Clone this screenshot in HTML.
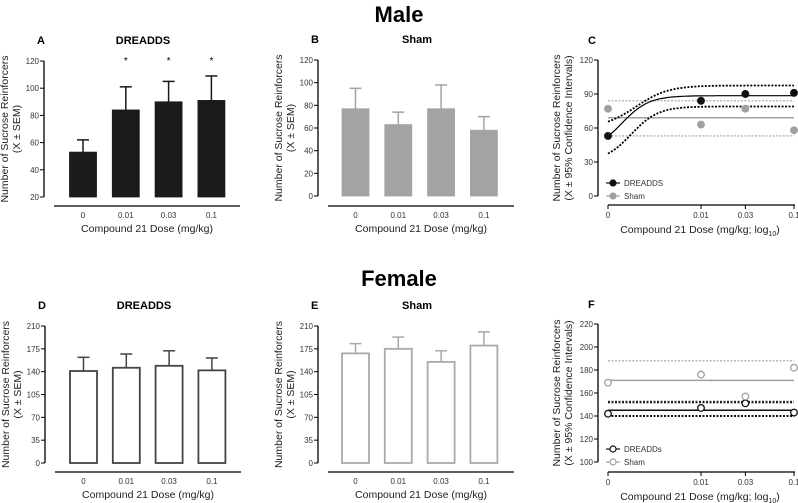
<!DOCTYPE html>
<html><head><meta charset="utf-8"><style>
body{margin:0;background:#fff;}
svg{display:block;font-family:"Liberation Sans",Arial,sans-serif;}
</style></head><body>
<svg id="fig" width="798" height="503" viewBox="0 0 798 503">
<text x="399" y="22" text-anchor="middle" font-size="22" font-weight="bold">Male</text>
<text x="399" y="286" text-anchor="middle" font-size="22" font-weight="bold">Female</text>
</svg>
<script>
const doseLabels = ["0","0.01","0.03","0.1"];
const doseValues = [0.001,0.01,0.03,0.1];
const aMeans = [53,84,90,91];
const aErr = [62,101,105,109];
const aSig = [false,true,true,true];
const bMeans = [77,63,77,58];
const bErr = [95,74,98,70];
const dMeans = [141,146,149,142];
const dErr = [162,167,172,161];
const eMeans = [168,175,155,180];
const eErr = [183,193,172,201];
const ticksAB = [20,40,60,80,100,120];
const ticksB = [0,20,40,60,80,100,120];
const ticksDE = [0,35,70,105,140,175,210];
const cDreadds = [53,84,90,91];
const cSham = [77,63,77,58];
const cShamFit = [69,84,53];
const cTicks = [0,30,60,90,120];
const cFitParams = [40,88.5,-2.85,3];
const cUpperParams = [60,97.5,-2.7,2.5];
const cLowerParams = [30,79,-2.75,3];
const fDreadds = [142,147,151,143];
const fSham = [169,176,157,182];
const fDreaddsFit = [145,152,140];
const fShamFit = [171,188,153];
const fTicks = [100,120,140,160,180,200,220];

const NS="http://www.w3.org/2000/svg";
const svg=document.getElementById('fig');
function mk(tag,attrs,parent,text){const e=document.createElementNS(NS,tag);for(const k in attrs)e.setAttribute(k,attrs[k]);if(text!==undefined)e.textContent=text;(parent||svg).appendChild(e);return e;}

function yAxis(g,ax,yScale,ticks,name){
  const l=mk('line',{x1:ax,x2:ax,y1:yScale(ticks[ticks.length-1]),y2:yScale(ticks[0]),stroke:'#000','stroke-width':1.3},g);
  
  
  ticks.forEach(t=>{
    mk('line',{x1:ax-4,x2:ax,y1:yScale(t),y2:yScale(t),stroke:'#000','stroke-width':1},g);
    const tx=mk('text',{x:ax-5,y:yScale(t)+3,'text-anchor':'end','font-size':8,fill:'#333'},g,String(t));
    
    
  });
}
function yTitle(g,x,cy,l1,l2,name){
  const t=mk('text',{transform:`translate(${x},${cy}) rotate(-90)`,'text-anchor':'middle','font-size':10.5,fill:'#222'},g);
  
  
  mk('tspan',{x:0,dy:0},t,l1);
  const s=mk('tspan',{x:0,dy:12},t,l2);
}
function headers(g,lx,ly,letter,tx,title,name){
  const a=mk('text',{x:lx,y:ly,'font-size':11,'font-weight':'bold'},g,letter);
  
  
  if(title){const b=mk('text',{x:tx,y:ly,'font-size':11,'font-weight':'bold','text-anchor':'middle'},g,title);
  
  }
}

function barPanel(opt){
  const g=mk('g',{});
  
  
  const t0=opt.ticks[0],t1=opt.ticks[opt.ticks.length-1];
  const yS=v=>opt.yb+(v-t0)/(t1-t0)*(opt.yt-opt.yb);
  const xC=i=>opt.x0+14.5+i*42.8;
  yAxis(g,opt.ax,yS,opt.ticks,opt.name);
  yTitle(g,opt.ax-36,(opt.yt+opt.yb)/2,'Number of Sucrose Reinforcers','(X ± SEM)',opt.name);
  headers(g,opt.ax-7,opt.yt-17,opt.letter,opt.ax+99,opt.title,opt.name);
  opt.means.forEach((m,i)=>{
    const cx=xC(i);
    const e=mk('line',{x1:cx,x2:cx,y1:yS(opt.err[i]),y2:yS(m),stroke:opt.stroke,'stroke-width':1.5},g);
    
    
    mk('line',{x1:cx-6,x2:cx+6,y1:yS(opt.err[i]),y2:yS(opt.err[i]),stroke:opt.stroke,'stroke-width':1.5},g);
    const r=mk('rect',{x:cx-13.5,y:yS(m),width:27,height:yS(t0)-yS(m),fill:opt.fill,stroke:opt.stroke,'stroke-width':opt.fill==='#fff'?1.8:0.8},g);
    
    
    if(opt.sig&&opt.sig[i]){const s=mk('text',{x:cx,y:opt.yt+3,'text-anchor':'middle','font-size':10},g,'*');
      
      }
    const tl=mk('text',{x:cx,y:opt.xa+12,'text-anchor':'middle','font-size':8,fill:'#333'},g,doseLabels[i]);
    
    
  });
  const xl=mk('line',{x1:opt.ax+10,x2:opt.ax+196,y1:opt.xa,y2:opt.xa,stroke:'#000','stroke-width':1.3},g);
  
  
  const xt=mk('text',{x:opt.ax+103,y:opt.xa+26,'text-anchor':'middle','font-size':10.5,fill:'#222'},g,'Compound 21 Dose (mg/kg)');
  
  
}
barPanel({name:'panel-a',letter:'A',title:'DREADDS',ax:44,x0:68.5,yt:61,yb:197,xa:206,ticks:ticksAB,means:aMeans,err:aErr,sig:aSig,fill:'#1a1a1a',stroke:'#1a1a1a'});
barPanel({name:'panel-b',letter:'B',title:'Sham',ax:318,x0:341,yt:60,yb:196,xa:206,ticks:ticksB,means:bMeans,err:bErr,fill:'#a3a3a3',stroke:'#a3a3a3'});
barPanel({name:'panel-d',letter:'D',title:'DREADDS',ax:45,x0:69,yt:326,yb:463,xa:472,ticks:ticksDE,means:dMeans,err:dErr,fill:'#fff',stroke:'#444'});
barPanel({name:'panel-e',letter:'E',title:'Sham',ax:318,x0:341,yt:326,yb:463,xa:472,ticks:ticksDE,means:eMeans,err:eErr,fill:'#fff',stroke:'#aaa'});

function fitPanel(opt){
  const g=mk('g',{});
  
  
  const t0=opt.ticks[0],t1=opt.ticks[opt.ticks.length-1];
  const yS=v=>opt.yb+(v-t0)/(t1-t0)*(opt.yt-opt.yb);
  const xS=d=>608+(Math.log10(d)+3)*93;
  const xEnd=xS(0.1);
  yAxis(g,598,yS,opt.ticks,opt.name);
  yTitle(g,560,(opt.yt+opt.yb)/2,'Number of Sucrose Reinforcers','(X ± 95% Confidence Intervals)',opt.name);
  headers(g,588,opt.yt-16,opt.letter,0,null,opt.name);
  const xl=mk('line',{x1:608,x2:795,y1:opt.xa,y2:opt.xa,stroke:'#000','stroke-width':1.3},g);
  
  
  doseValues.forEach((d,i)=>{
    mk('line',{x1:xS(d),x2:xS(d),y1:opt.xa,y2:opt.xa+4,stroke:'#000'},g);
    const tl=mk('text',{x:xS(d),y:opt.xa+13,'text-anchor':'middle','font-size':8,fill:'#333'},g,doseLabels[i]);
    
    
  });
  const xt=mk('text',{x:700,y:opt.xa+28,'text-anchor':'middle','font-size':10.5,fill:'#222'},g);
  
  
  xt.textContent='Compound 21 Dose (mg/kg; log';
  mk('tspan',{'font-size':7,dy:3},xt,'10');
  mk('tspan',{dy:-3},xt,')');
  opt.hlines.forEach(h=>{
    const l=mk('line',{x1:608,x2:xEnd,y1:yS(h.v),y2:yS(h.v),stroke:h.c,'stroke-width':h.w,'stroke-dasharray':h.dash||''},g);
    
    
  });
  opt.curves.forEach(c=>{
    const p=c.p;let d='';
    for(let k=0;k<=60;k++){const lx=-3+2*k/60;const v=p[0]+(p[1]-p[0])/(1+Math.pow(10,(p[2]-lx)*p[3]));d+=(k?'L':'M')+(608+(lx+3)*93).toFixed(1)+','+yS(v).toFixed(1);}
    const e=mk('path',{d:d,fill:'none',stroke:'#000','stroke-width':c.w,'stroke-dasharray':c.dash||''},g);
    
    
  });
  opt.series.forEach(s=>{
    s.vals.forEach((v,i)=>{
      const c=mk('circle',{cx:xS(doseValues[i]),cy:yS(v),r:3.3,fill:s.open?'#fff':s.c,stroke:s.c,'stroke-width':1.3},g);
      
      
    });
  });
  opt.series.forEach((s,j)=>{
    const ly=opt.legY+j*13;
    mk('line',{x1:606,x2:620,y1:ly,y2:ly,stroke:s.c,'stroke-width':1.2},g);
    const c=mk('circle',{cx:613,cy:ly,r:3,fill:s.open?'#fff':s.c,stroke:s.c,'stroke-width':1.2},g);
    
    
    const t=mk('text',{x:624,y:ly+3,'font-size':8,fill:'#333'},g,s.label);
    
    
  });
}
fitPanel({name:'panel-c',letter:'C',ticks:cTicks,yt:60,yb:196,xa:205,legY:183,
  hlines:[{v:cShamFit[0],c:'#a0a0a0',w:1.5,n:'sham-mean-line'},{v:cShamFit[1],c:'#a0a0a0',w:1.2,dash:'2,1.5',n:'sham-ci-upper'},{v:cShamFit[2],c:'#a0a0a0',w:1.2,dash:'2,1.5',n:'sham-ci-lower'}],
  curves:[{p:cFitParams,w:1.2,n:'dreadds-fit-curve'},{p:cUpperParams,w:1.8,dash:'2,1.5',n:'dreadds-ci-upper'},{p:cLowerParams,w:1.8,dash:'2,1.5',n:'dreadds-ci-lower'}],
  series:[{vals:cDreadds,c:'#111',n:'dreadds',label:'DREADDS'},{vals:cSham,c:'#a0a0a0',n:'sham',label:'Sham'}]});
fitPanel({name:'panel-f',letter:'F',ticks:fTicks,yt:324,yb:462,xa:472,legY:449,
  hlines:[{v:fShamFit[0],c:'#a0a0a0',w:1.5,n:'sham-mean-line'},{v:fShamFit[1],c:'#a0a0a0',w:1.2,dash:'2,1.5',n:'sham-ci-upper'},{v:fShamFit[2],c:'#a0a0a0',w:1.2,dash:'2,1.5',n:'sham-ci-lower'},
    {v:fDreaddsFit[0],c:'#111',w:1.5,n:'dreadds-mean-line'},{v:fDreaddsFit[1],c:'#111',w:2,dash:'2,1.5',n:'dreadds-ci-upper'},{v:fDreaddsFit[2],c:'#111',w:2,dash:'2,1.5',n:'dreadds-ci-lower'}],
  curves:[],
  series:[{vals:fDreadds,c:'#111',open:true,n:'dreadds',label:'DREADDs'},{vals:fSham,c:'#a0a0a0',open:true,n:'sham',label:'Sham'}]});
</script>
</body></html>
